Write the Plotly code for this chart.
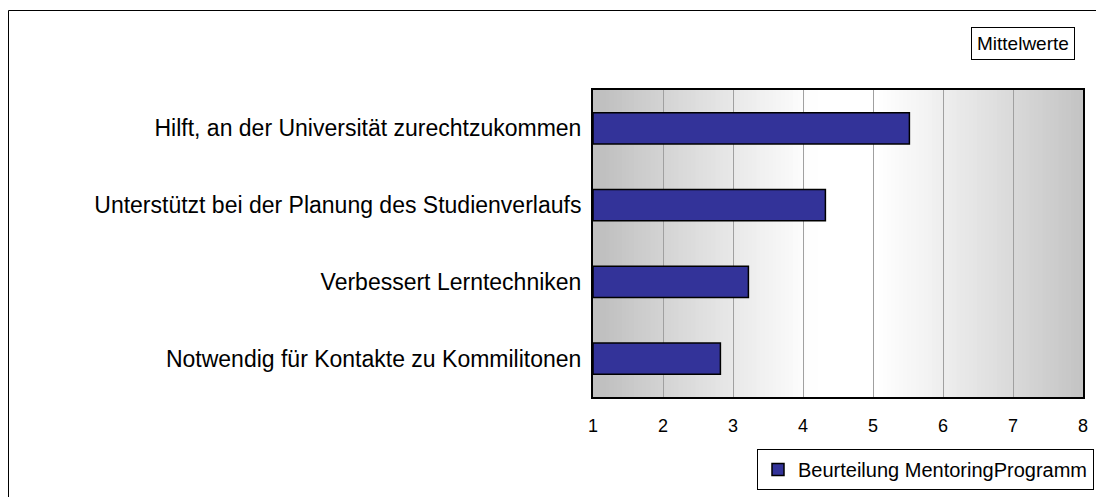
import plotly.graph_objects as go

categories = [
    "Hilft, an der Universität zurechtzukommen",
    "Unterstützt bei der Planung des Studienverlaufs",
    "Verbessert Lerntechniken",
    "Notwendig für Kontakte zu Kommilitonen",
]
values = [5.52, 4.32, 3.22, 2.82]
series_name = "Beurteilung MentoringProgramm"
tick_values = [1, 2, 3, 4, 5, 6, 7, 8]
box_label = "Mittelwerte"

# page body has an 8px margin, so the figure is placed 8px in from the top-left
OFF = 8
W, H = 1104 - OFF, 497 - OFF
L, T = 593 - OFF, 90 - OFF
R = W - (1083 - OFF)
B = H - (397 - OFF)
pw, ph = W - L - R, H - T - B

def px_x(x):  # reference pixel -> paper
    return (x - OFF - L) / pw

def px_y(y):
    return (H - B - (y - OFF)) / ph

fig = go.Figure()
fig.add_trace(go.Bar(
    y=categories, x=[v - 1 for v in values], base=1, orientation="h",
    name=series_name, width=0.41,
    marker=dict(color="#333399", line=dict(color="#000000", width=1.5)),
    showlegend=True,
))

# gradient background
shapes = []
n = 120
for i in range(n):
    t0, t1 = i / n, (i + 1) / n
    tc = (t0 + t1) / 2
    d = abs(tc - 0.52) / 0.5
    d = min(1.0, max(0.0, (d - 0.12) / 0.88))
    v = int(round(255 - (255 - 192) * d ** 1.1))
    col = f"rgb({v},{v},{v})"
    shapes.append(dict(type="rect", xref="x domain", yref="y domain",
                       x0=t0, x1=t1 + 0.002, y0=0, y1=1, fillcolor=col,
                       line=dict(width=0), layer="below"))
# outer frame
shapes.append(dict(type="rect", xref="paper", yref="paper",
                   x0=px_x(8.5), x1=px_x(1130), y0=px_y(10.5), y1=px_y(530),
                   line=dict(color="#000000", width=1), fillcolor="rgba(0,0,0,0)"))

fig.update_layout(
    width=W, height=H,
    margin=dict(l=L, r=R, t=T, b=B, autoexpand=False),
    paper_bgcolor="white", plot_bgcolor="white",
    font=dict(family="Liberation Sans, Arial, sans-serif", size=18, color="#000000"),
    shapes=shapes,
    showlegend=True,
    legend=dict(x=px_x(1094), xanchor="right", y=px_y(449), yanchor="top",
                bordercolor="#000000", borderwidth=1, bgcolor="white",
                font=dict(size=20), itemwidth=30),
    annotations=[dict(text=box_label, xref="paper", yref="paper",
                      x=px_x(1075), xanchor="right", y=px_y(44), yanchor="middle",
                      showarrow=False, bordercolor="#000000", borderwidth=1,
                      borderpad=5, bgcolor="white", font=dict(size=19))],
)
fig.update_xaxes(range=[1, 8], tickvals=tick_values, showgrid=True,
                 gridcolor="#a0a0a0", gridwidth=1, zeroline=False,
                 showline=True, linecolor="#000000", linewidth=2, mirror=True,
                 ticks="", ticklabelstandoff=11, tickfont=dict(size=18))
fig.update_yaxes(categoryorder="array", categoryarray=categories,
                 autorange="reversed", showgrid=False, zeroline=False,
                 showline=True, linecolor="#000000", linewidth=2, mirror=True,
                 ticks="", ticklabelstandoff=5, tickfont=dict(size=23))

fig.write_html("out.html")
